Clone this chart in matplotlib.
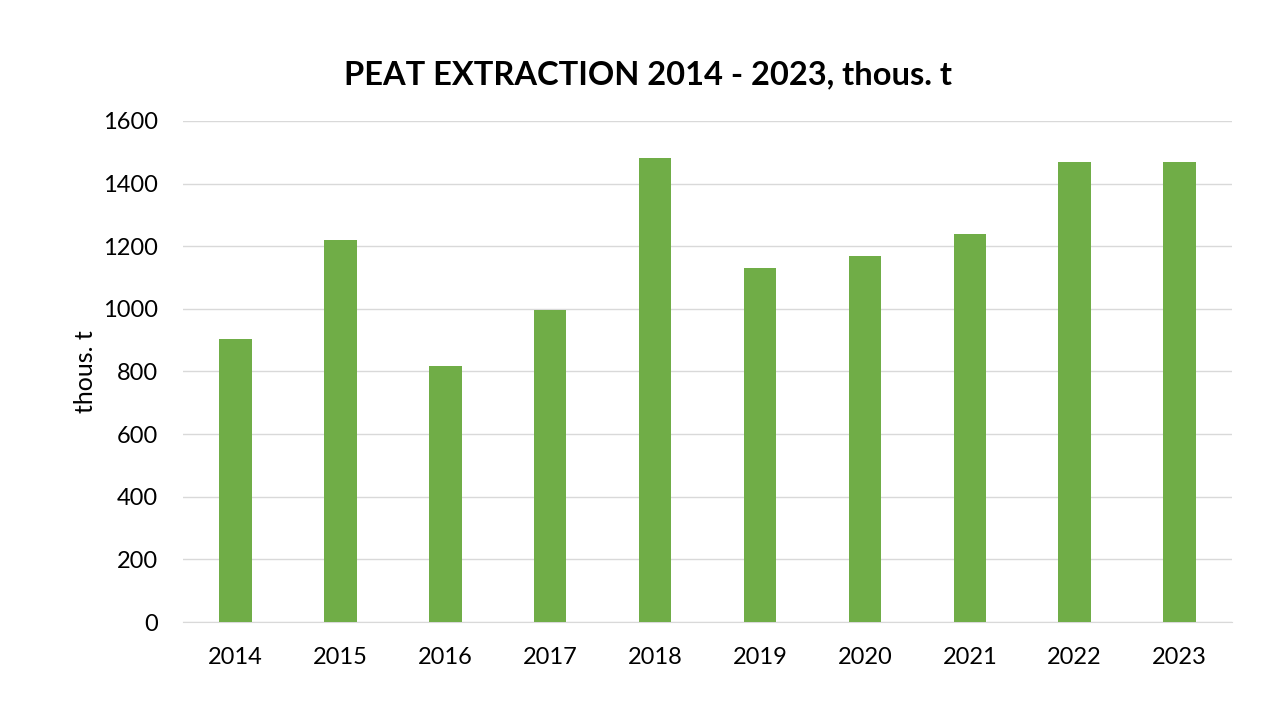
import matplotlib
matplotlib.use("Agg")
import matplotlib.pyplot as plt
import numpy as np

# data
years = ["2014", "2015", "2016", "2017", "2018", "2019", "2020", "2021", "2022", "2023"]
extraction = [904, 1220, 818, 996, 1483, 1131, 1169, 1239, 1468, 1468]

plt.rcParams["font.family"] = ["Lato", "DejaVu Sans"]

fig = plt.figure(figsize=(12.8, 7.2), dpi=100)
ax = fig.add_axes([0.143, 0.1361, 0.8195, 0.6959])

x = np.arange(len(years))
ax.bar(x, extraction, width=0.31, color="#70AD47", zorder=3)

ax.set_xlim(-0.5, len(years) - 0.5)
ax.set_ylim(0, 1600)
ax.set_yticks(range(0, 1601, 200))
ax.set_xticks(x)
ax.set_xticklabels(years)
ax.grid(axis="y", color="#d9d9d9", linewidth=1, zorder=0)

for s in ["top", "right", "left"]:
    ax.spines[s].set_visible(False)
ax.spines["bottom"].set_color("#d9d9d9")
ax.tick_params(axis="both", length=0, labelsize=17, colors="#000000")
ax.tick_params(axis="x", pad=18)
ax.tick_params(axis="y", pad=18)

ax.set_ylabel("thous. t", fontsize=18, labelpad=4)
fig.text(0.506, 0.896, "PEAT EXTRACTION 2014 - 2023, thous. t", ha="center", va="center",
         fontsize=23.5, fontweight="bold")

fig.savefig("out.png", dpi=100, facecolor="white")
